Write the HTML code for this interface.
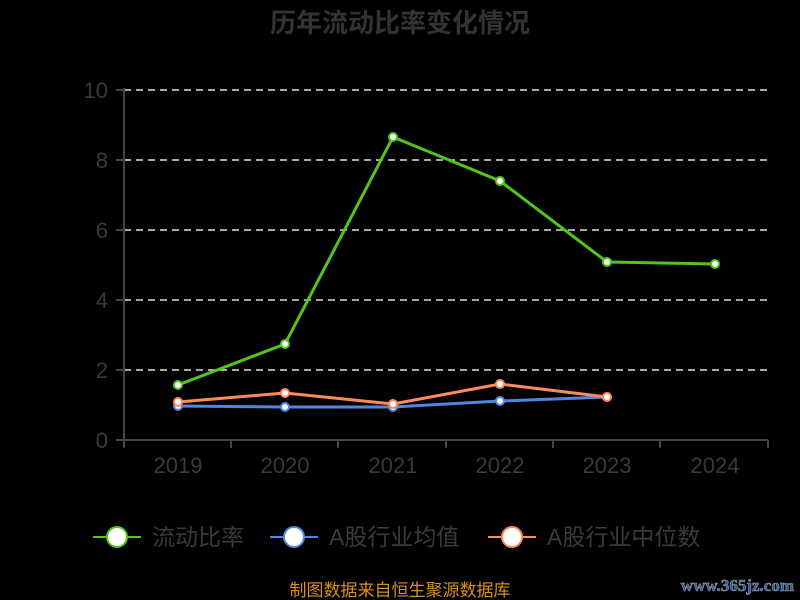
<!DOCTYPE html>
<html><head><meta charset="utf-8"><style>
html,body{margin:0;padding:0;background:#000;}
svg{display:block;font-family:"Liberation Sans","Noto Sans CJK SC",sans-serif;}
</style></head><body>
<svg width="800" height="600" viewBox="0 0 800 600">
<rect width="800" height="600" fill="#000"/>
<text x="400" y="32" text-anchor="middle" font-size="26" font-weight="bold" fill="#333">历年流动比率变化情况</text>
<g stroke="#ddd" stroke-width="1.5" stroke-dasharray="7,5">
<line x1="124" y1="90" x2="768" y2="90"/><line x1="124" y1="160" x2="768" y2="160"/>
<line x1="124" y1="230" x2="768" y2="230"/><line x1="124" y1="300" x2="768" y2="300"/>
<line x1="124" y1="370" x2="768" y2="370"/>
</g>
<g stroke="#444" stroke-width="2">
<line x1="124" y1="88" x2="124" y2="440"/><line x1="116" y1="440" x2="768" y2="440"/>
<line x1="116" y1="90" x2="124" y2="90"/><line x1="116" y1="160" x2="124" y2="160"/><line x1="116" y1="230" x2="124" y2="230"/><line x1="116" y1="300" x2="124" y2="300"/><line x1="116" y1="370" x2="124" y2="370"/>
<line x1="124" y1="440" x2="124" y2="448"/><line x1="231" y1="440" x2="231" y2="448"/><line x1="338" y1="440" x2="338" y2="448"/><line x1="446" y1="440" x2="446" y2="448"/><line x1="553" y1="440" x2="553" y2="448"/><line x1="660" y1="440" x2="660" y2="448"/><line x1="768" y1="440" x2="768" y2="448"/>
</g>
<g font-size="22" fill="#3a3a3a" text-anchor="end">
<text x="108" y="98">10</text><text x="108" y="168">8</text><text x="108" y="238">6</text><text x="108" y="308">4</text><text x="108" y="378">2</text><text x="108" y="448">0</text>
</g>
<g font-size="22" fill="#3a3a3a" text-anchor="middle">
<text x="178" y="473">2019</text><text x="285" y="473">2020</text><text x="393" y="473">2021</text><text x="500" y="473">2022</text><text x="607" y="473">2023</text><text x="715" y="473">2024</text>
</g>
<polyline fill="none" stroke="#4e86e0" stroke-width="3" points="178,406 285,407 393,407 500,401 607,397"/>
<polyline fill="none" stroke="#ff8a5b" stroke-width="3" points="178,402 285,393 393,404 500,384 607,397"/>
<polyline fill="none" stroke="#52c41a" stroke-width="3" points="178,385 285,344 393,137 500,181 607,262 715,264"/>
<g fill="#fff" stroke-width="2">
<g stroke="#4e86e0"><circle cx="178" cy="406" r="4"/><circle cx="285" cy="407" r="4"/><circle cx="393" cy="407" r="4"/><circle cx="500" cy="401" r="4"/><circle cx="607" cy="397" r="4"/></g>
<g stroke="#ff8a5b"><circle cx="178" cy="402" r="4"/><circle cx="285" cy="393" r="4"/><circle cx="393" cy="404" r="4"/><circle cx="500" cy="384" r="4"/><circle cx="607" cy="397" r="4"/></g>
<g stroke="#52c41a"><circle cx="178" cy="385" r="4"/><circle cx="285" cy="344" r="4"/><circle cx="393" cy="137" r="4"/><circle cx="500" cy="181" r="4"/><circle cx="607" cy="262" r="4"/><circle cx="715" cy="264" r="4"/></g>
</g>
<g stroke-width="2" font-size="23" fill="#3a3a3a">
<line x1="93" y1="537" x2="141" y2="537" stroke="#52c41a"/><circle cx="117" cy="537" r="10" fill="#fff" stroke="#52c41a"/>
<text x="152" y="545" stroke="none">流动比率</text>
<line x1="270" y1="537" x2="318" y2="537" stroke="#4e86e0"/><circle cx="294" cy="537" r="10" fill="#fff" stroke="#4e86e0"/>
<text x="329" y="545" stroke="none">A股行业均值</text>
<line x1="488" y1="537" x2="536" y2="537" stroke="#ff8a5b"/><circle cx="512" cy="537" r="10" fill="#fff" stroke="#ff8a5b"/>
<text x="547" y="545" stroke="none">A股行业中位数</text>
</g>
<text x="400" y="596" text-anchor="middle" font-size="17" fill="#d9901a">制图数据来自恒生聚源数据库</text>
<text x="794" y="591" text-anchor="end" font-size="17" font-weight="bold" fill="#2a5caa" stroke="#999" stroke-width="0.6" font-family="Liberation Serif,serif">www.365jz.com</text>
</svg>
</body></html>
